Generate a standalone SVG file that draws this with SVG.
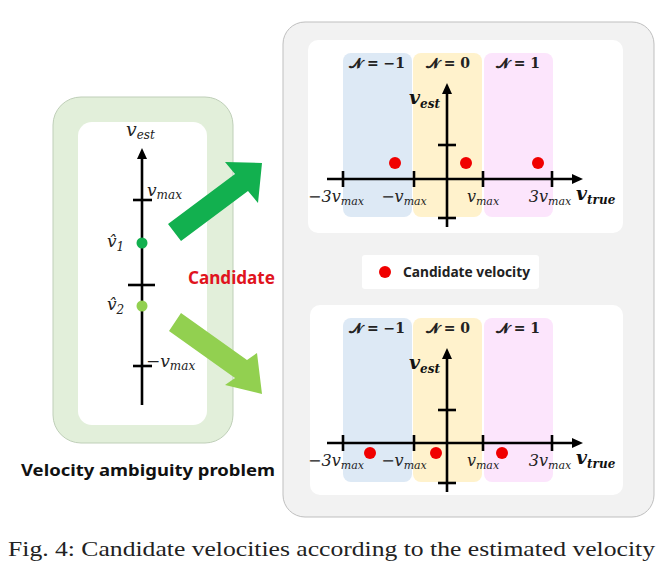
<svg xmlns="http://www.w3.org/2000/svg" width="667" height="571" viewBox="0 0 667 571">
<defs>
<style>
.ax{stroke:#000;stroke-width:2.6;fill:none}
.m{font-family:"DejaVu Serif",serif;font-style:italic;font-size:16px;fill:#222}
.ms{font-size:11px}
.ml{font-family:"DejaVu Serif",serif;font-style:italic;font-size:17px;fill:#222}
.mls{font-size:12px}
.mb{font-family:"DejaVu Serif",serif;font-style:italic;font-weight:bold;font-size:19px;fill:#111}
.mbs{font-size:12px}
.nl{font-family:"DejaVu Serif",serif;font-weight:bold;font-size:14px;fill:#222;text-anchor:middle}
.dot{fill:#f00000}
.sans{font-family:"Noto Sans","Liberation Sans",sans-serif;font-weight:bold}
</style>
</defs>
<rect width="667" height="571" fill="#fff"/>

<g id="right-panel">
<rect x="283" y="22" width="371" height="495" rx="22" fill="#f2f2f2" stroke="#bfbfbf" stroke-width="1"/>
</g>

<g id="chart-top">
<rect x="308" y="40" width="315" height="193" rx="10" fill="#fff"/>
<rect x="343" y="53" width="69" height="164" rx="8" fill="#dde9f5"/>
<rect x="413" y="53" width="69" height="164" rx="8" fill="#fff2cc"/>
<rect x="484" y="53" width="69" height="164" rx="8" fill="#fce5fc"/>
<text class="nl" x="377" y="68">𝓝 = −1</text>
<text class="nl" x="448" y="68">𝓝 = 0</text>
<text class="nl" x="518" y="68">𝓝 = 1</text>
<line class="ax" x1="327" y1="179" x2="574" y2="179"/>
<polygon points="583,179 572,174 572,184" fill="#000"/>
<line class="ax" x1="343" y1="171" x2="343" y2="187"/>
<line class="ax" x1="414" y1="171" x2="414" y2="187"/>
<line class="ax" x1="483" y1="171" x2="483" y2="187"/>
<line class="ax" x1="552" y1="171" x2="552" y2="187"/>
<line class="ax" x1="447" y1="227" x2="447" y2="92"/>
<polygon points="447,83 442,94 452,94" fill="#000"/>
<line class="ax" x1="438" y1="145" x2="456" y2="145"/>
<line class="ax" x1="438" y1="218" x2="456" y2="218"/>
<text class="mb" x="409" y="104">v<tspan class="mbs" dy="4">est</tspan></text>
<text class="mb" x="576" y="200">v<tspan class="mbs" dy="4">true</tspan></text>
<text class="m" x="336" y="202" text-anchor="middle">−3v<tspan class="ms" dy="3">max</tspan></text>
<text class="m" x="404" y="202" text-anchor="middle">−v<tspan class="ms" dy="3">max</tspan></text>
<text class="m" x="483" y="202" text-anchor="middle">v<tspan class="ms" dy="3">max</tspan></text>
<text class="m" x="550" y="202" text-anchor="middle">3v<tspan class="ms" dy="3">max</tspan></text>
<circle class="dot" cx="395" cy="163" r="6"/>
<circle class="dot" cx="466" cy="163" r="6"/>
<circle class="dot" cx="538" cy="163" r="6"/>
</g>

<g id="legend">
<rect x="362" y="255" width="177" height="34" rx="3" fill="#fff"/>
<circle class="dot" cx="385" cy="272" r="6"/>
<text class="sans" x="403" y="277" font-size="13.5" textLength="127" lengthAdjust="spacingAndGlyphs" fill="#222">Candidate velocity</text>
</g>

<g id="chart-bottom" transform="translate(0,264)">
<rect x="310" y="41" width="313" height="190" rx="10" fill="#fff"/>
<rect x="343" y="54" width="69" height="164" rx="8" fill="#dde9f5"/>
<rect x="413" y="54" width="69" height="164" rx="8" fill="#fff2cc"/>
<rect x="484" y="54" width="69" height="164" rx="8" fill="#fce5fc"/>
<text class="nl" x="377" y="69">𝓝 = −1</text>
<text class="nl" x="448" y="69">𝓝 = 0</text>
<text class="nl" x="518" y="69">𝓝 = 1</text>
<line class="ax" x1="327" y1="179" x2="574" y2="179"/>
<polygon points="583,179 572,174 572,184" fill="#000"/>
<line class="ax" x1="343" y1="171" x2="343" y2="187"/>
<line class="ax" x1="414" y1="171" x2="414" y2="187"/>
<line class="ax" x1="483" y1="171" x2="483" y2="187"/>
<line class="ax" x1="552" y1="171" x2="552" y2="187"/>
<line class="ax" x1="447" y1="228" x2="447" y2="93"/>
<polygon points="447,84 442,95 452,95" fill="#000"/>
<line class="ax" x1="438" y1="146" x2="456" y2="146"/>
<line class="ax" x1="438" y1="219" x2="456" y2="219"/>
<text class="mb" x="409" y="105">v<tspan class="mbs" dy="4">est</tspan></text>
<text class="mb" x="576" y="200">v<tspan class="mbs" dy="4">true</tspan></text>
<text class="m" x="336" y="202" text-anchor="middle">−3v<tspan class="ms" dy="3">max</tspan></text>
<text class="m" x="404" y="202" text-anchor="middle">−v<tspan class="ms" dy="3">max</tspan></text>
<text class="m" x="483" y="202" text-anchor="middle">v<tspan class="ms" dy="3">max</tspan></text>
<text class="m" x="550" y="202" text-anchor="middle">3v<tspan class="ms" dy="3">max</tspan></text>
<circle class="dot" cx="370" cy="189" r="6"/>
<circle class="dot" cx="436" cy="189" r="6"/>
<circle class="dot" cx="502" cy="189" r="6"/>
</g>

<g id="left-panel">
<rect x="53" y="97" width="180" height="346" rx="28" fill="#e2efda" stroke="#bfcfb8" stroke-width="1"/>
<rect x="78" y="122" width="129" height="303" rx="14" fill="#fff"/>
<line class="ax" x1="142" y1="405" x2="142" y2="157"/>
<polygon points="142,148 137,159 147,159" fill="#000"/>
<line class="ax" x1="133" y1="200" x2="152" y2="200"/>
<line class="ax" x1="128" y1="285" x2="155" y2="285"/>
<line class="ax" x1="133" y1="366" x2="152" y2="366"/>
<text class="ml" x="126" y="136" style="font-size:19px">v<tspan class="mls" dy="3">est</tspan></text>
<text class="ml" x="147" y="196">v<tspan class="mls" dy="3">max</tspan></text>
<text class="ml" x="146" y="367">−v<tspan class="mls" dy="3">max</tspan></text>
<text class="ml" x="107" y="247">v̂<tspan class="mls" dy="4">1</tspan></text>
<text class="ml" x="107" y="310">v̂<tspan class="mls" dy="4">2</tspan></text>
<circle cx="142" cy="243" r="5.5" fill="#12b04f"/>
<circle cx="142" cy="306" r="5.5" fill="#92d050"/>
<text class="sans" x="21" y="476" font-size="16" textLength="254" lengthAdjust="spacingAndGlyphs" fill="#111">Velocity ambiguity problem</text>
</g>

<g id="connectors">
<polygon points="168,224 235,174 225,162 262,163 258,203 248,191 181,241" fill="#12b04f"/>
<polygon points="181,313 247,360 257,353 262,394 225,385 235,378 169,331" fill="#92d050"/>
</g>

<g id="candidate-label">
<text class="sans" x="188" y="284" font-size="17" textLength="87" lengthAdjust="spacingAndGlyphs" fill="#e0141e">Candidate</text>
</g>

<text x="8" y="556" font-family="'Liberation Serif', serif" font-size="22" textLength="647" lengthAdjust="spacingAndGlyphs" fill="#222">Fig. 4: Candidate velocities according to the estimated velocity</text>
</svg>
